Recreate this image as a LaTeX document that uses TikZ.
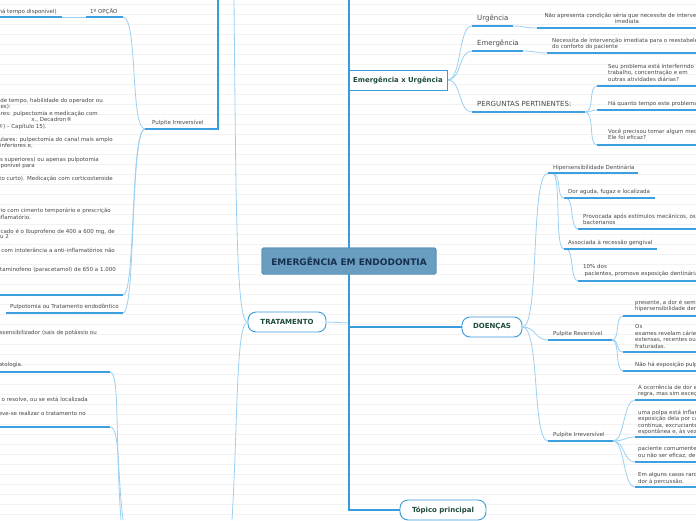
\documentclass[tikz,border=0pt]{standalone}
\usepackage{fontspec}
\setmainfont{DejaVu Sans}
\usetikzlibrary{arrows.meta}
\definecolor{thickblue}{HTML}{3A9BDC}
\definecolor{ublue}{HTML}{3D9FE0}
\definecolor{lblue}{HTML}{9BD0F3}
\definecolor{tgrey}{HTML}{484848}
\definecolor{ngreen}{HTML}{1D4B3C}
\definecolor{cfill}{HTML}{6A9EC0}
\definecolor{cborder}{HTML}{5590B8}
\definecolor{cnavy}{HTML}{17304F}
\definecolor{bgl}{HTML}{F2F2F2}
\tikzset{
  txt/.style={inner sep=0pt, text=tgrey, font=\fontsize{5.5}{6.5}\selectfont, align=left},
  txtc/.style={txt, align=center},
  midtxt/.style={inner sep=0pt, text=tgrey, font=\fontsize{7}{8}\selectfont},
  mainnode/.style={draw=thickblue, line width=0.9pt, fill=white, rounded corners=8pt, text=ngreen, font=\fontsize{7}{8}\selectfont\bfseries, inner sep=0pt},
  boxnode/.style={draw=thickblue, line width=1pt, fill=white, text=ngreen, font=\fontsize{6.9}{8}\selectfont\bfseries, inner sep=0pt},
  centernode/.style={draw=cborder, line width=0.8pt, fill=cfill, rounded corners=1.5pt, text=cnavy, font=\fontsize{9}{10}\selectfont\bfseries, inner sep=0pt},
  thickln/.style={draw=thickblue, line width=1.6pt},
  uline/.style={draw=ublue, line width=1.2pt},
  conn/.style={draw=lblue, line width=0.8pt},
}
\begin{document}
\begin{tikzpicture}[x=1pt,y=-1pt]
\useasboundingbox (0,0) rectangle (696,520);
\clip (0,0) rectangle (696,520);
\fill[white] (0,0) rectangle (696,520);
\foreach \i in {0,...,52} \draw[bgl, line width=0.6pt] (0,\i*10+4) -- (696,\i*10+4);

% ---------- main nodes ----------
\node[centernode, minimum width=174pt, minimum height=26pt] (center) at (349,261) {EMERGÊNCIA EM ENDODONTIA};
\node[boxnode, minimum width=98pt, minimum height=20pt] (eu) at (398,80) {Emergência x Urgência};
\node[mainnode, minimum width=78pt, minimum height=20pt] (trat) at (287,322) {TRATAMENTO};
\node[mainnode, minimum width=60pt, minimum height=20pt] (doencas) at (492,327) {DOENÇAS};
\node[mainnode, minimum width=86pt, minimum height=20pt] (topico) at (443,510) {Tópico principal};

% ---------- coordinates ----------
\coordinate (topc) at (349,0);
\coordinate (botc) at (349,510);
\coordinate (jd) at (349,327);
\coordinate (jt) at (349,323);
\coordinate (relTop) at (218,0);
\coordinate (relCorner) at (218,129);
\coordinate (relEnd) at (211,129);
\coordinate (tUp) at (234,0);
\coordinate (tDown) at (232,520);

% left side coordinates
\coordinate (hdR) at (62,17);
\coordinate (opL) at (86,17);
\coordinate (opR) at (123,17);
\coordinate (piL) at (145,129);
\coordinate (piR) at (218,129);
\coordinate (blkR) at (123,295);
\coordinate (puR) at (123,313);
\coordinate (b1R) at (110,372);
\coordinate (c1R) at (110,427);
\coordinate (bOff1) at (121,520);
\coordinate (bOff2) at (123,520);

% right side coordinates
\coordinate (urgL) at (472,26);
\coordinate (urgR) at (513,26);
\coordinate (urgtL) at (537,28);
\coordinate (emgL) at (472,51);
\coordinate (emgR) at (523,51);
\coordinate (emgtL) at (547,53);
\coordinate (perL) at (472,112);
\coordinate (perR) at (585,112);
\coordinate (q1L) at (597,86);
\coordinate (q2L) at (597,110);
\coordinate (q3L) at (597,145);
\coordinate (hipL) at (548,173);
\coordinate (hipS) at (552,173);
\coordinate (dorL) at (564,198);
\coordinate (dorS) at (566,198);
\coordinate (provL) at (578,229);
\coordinate (assL) at (564,249);
\coordinate (assS) at (566,249);
\coordinate (dezL) at (578,281);
\coordinate (prevL) at (548,340);
\coordinate (prevR) at (612,340);
\coordinate (pr1L) at (623,316);
\coordinate (pr2L) at (623,352);
\coordinate (pr3L) at (623,371);
\coordinate (pirrL) at (548,441);
\coordinate (pirrR) at (613,441);
\coordinate (pi1L) at (635,400);
\coordinate (pi2L) at (635,437);
\coordinate (pi3L) at (635,462);
\coordinate (pi4L) at (635,487);

% ---------- light connectors ----------
\draw[conn] (trat.east) -- (jt);
\draw[conn] (trat.west) .. controls (236,322) and (236,200) .. (tUp);
\draw[conn] (trat.west) .. controls (236,322) and (238,420) .. (tDown);
\draw[conn] (hdR) -- (opL);
\draw[conn] (piL) .. controls (130,129) and (138,17) .. (opR);
\draw[conn] (piL) .. controls (130,129) and (136,295) .. (blkR);
\draw[conn] (piL) .. controls (130,129) and (136,313) .. (puR);
\draw[conn] (b1R) .. controls (120,372) and (115,440) .. (bOff1);
\draw[conn] (c1R) .. controls (120,427) and (117,470) .. (bOff2);

\draw[conn] (eu.east) .. controls (462,80) and (458,26) .. (urgL);
\draw[conn] (eu.east) .. controls (462,80) and (458,51) .. (emgL);
\draw[conn] (eu.east) .. controls (462,80) and (458,112) .. (perL);
\draw[conn] (urgR) .. controls (525,26) and (525,28) .. (urgtL);
\draw[conn] (emgR) .. controls (535,51) and (535,53) .. (emgtL);
\draw[conn] (perR) .. controls (595,112) and (588,86) .. (q1L);
\draw[conn] (perR) .. controls (593,112) and (590,110) .. (q2L);
\draw[conn] (perR) .. controls (595,112) and (588,145) .. (q3L);

\draw[conn] (doencas.east) .. controls (540,327) and (530,173) .. (hipL);
\draw[conn] (doencas.east) .. controls (536,327) and (535,340) .. (prevL);
\draw[conn] (doencas.east) .. controls (540,327) and (532,441) .. (pirrL);
\draw[conn] (hipS) .. controls (562,173) and (556,198) .. (dorL);
\draw[conn] (hipS) .. controls (562,173) and (554,249) .. (assL);
\draw[conn] (dorS) .. controls (574,198) and (570,229) .. (provL);
\draw[conn] (assS) .. controls (574,249) and (570,281) .. (dezL);
\draw[conn] (prevR) .. controls (620,340) and (615,316) .. (pr1L);
\draw[conn] (prevR) .. controls (620,340) and (615,352) .. (pr2L);
\draw[conn] (prevR) .. controls (620,340) and (615,371) .. (pr3L);
\draw[conn] (pirrR) .. controls (625,441) and (623,400) .. (pi1L);
\draw[conn] (pirrR) .. controls (625,441) and (625,437) .. (pi2L);
\draw[conn] (pirrR) .. controls (625,441) and (623,462) .. (pi3L);
\draw[conn] (pirrR) .. controls (625,441) and (623,487) .. (pi4L);

% ---------- thick lines ----------
\draw[thickln] (topc) -- (botc) -- (topico.west);
\draw[thickln] (jd) -- (doencas.west);
\draw[thickln, -{Latex[length=3pt,width=3pt]}] (relTop) -- (relCorner) -- (relEnd);
\node[centernode, minimum width=174pt, minimum height=26pt] at (center) {EMERGÊNCIA EM ENDODONTIA};
\node[boxnode, minimum width=98pt, minimum height=20pt] at (eu) {Emergência x Urgência};

% ---------- underlines ----------
\draw[uline] (0,17) -- (hdR);
\draw[uline] (opL) -- (opR);
\draw[uline] (piL) -- (piR);
\draw[uline] (0,295) -- (blkR);
\draw[uline] (6,313) -- (puR);
\draw[uline] (0,372) -- (b1R);
\draw[uline] (0,427) -- (c1R);

\draw[uline] (urgL) -- (urgR);
\draw[uline] (urgtL) -- (700,28);
\draw[uline] (emgL) -- (emgR);
\draw[uline] (emgtL) -- (700,53);
\draw[uline] (perL) -- (perR);
\draw[uline] (q1L) -- (700,86);
\draw[uline] (q2L) -- (700,110);
\draw[uline] (q3L) -- (700,145);
\draw[uline] (hipL) -- (638,173);
\draw[uline] (dorL) -- (655,198);
\draw[uline] (provL) -- (700,229);
\draw[uline] (assL) -- (657,249);
\draw[uline] (dezL) -- (700,281);
\draw[uline] (prevL) -- (prevR);
\draw[uline] (pr1L) -- (700,316);
\draw[uline] (pr2L) -- (700,352);
\draw[uline] (pr3L) -- (700,371);
\draw[uline] (pirrL) -- (pirrR);
\draw[uline] (pi1L) -- (700,400);
\draw[uline] (pi2L) -- (700,437);
\draw[uline] (pi3L) -- (700,462);
\draw[uline] (pi4L) -- (700,487);

% ---------- left texts ----------
\node[txt, anchor=base east] (hd) at (57,13.8) {há tempo disponível)};
\node[txt, anchor=base west] (opc) at (90,13.4) {1º OPÇÃO};
\node[txt, anchor=base west] (pirrLt) at (152,124.8) {Pulpite Irreversível};
\node[txt, anchor=base east] (a1) at (103,102.9) {de tempo, habilidade do operador ou};
\node[txt, anchor=base east] (a2) at (11,108.9) {es):};
\node[txt, anchor=base east] (a3) at (98,115.9) {ares: pulpectomia e medicação com};
\node[txt, anchor=base east] (a4) at (72,121.9) {x., Decadron®};
\node[txt, anchor=base east] (a5) at (47,128.9) {®) – Capítulo 15).};
\node[txt, anchor=base east] (a6) at (113,141.9) {ulares: pulpectomia do canal mais amplo};
\node[txt, anchor=base east] (a7) at (33,147.9) {inferiores e,};
\node[txt, anchor=base east] (a8) at (99,161.9) {s superiores) ou apenas pulpotomia};
\node[txt, anchor=base east] (a9) at (35,167.9) {sponível para};
\node[txt, anchor=base east] (a10) at (113,180.9) {to curto). Medicação com corticosteroide};
\node[txt, anchor=base east] (a11) at (111,212.9) {rio com cimento temporário e prescrição};
\node[txt, anchor=base east] (a12) at (31,219.9) {inflamatório.};
\node[txt, anchor=base east] (a13) at (115,233.9) {cado é o Ibuprofeno de 400 a 600 mg, de};
\node[txt, anchor=base east] (a14) at (9,238.9) {ou 2};
\node[txt, anchor=base east] (a15) at (115,252.9) {com intolerância a anti-inflamatórios não};
\node[txt, anchor=base east] (a16) at (116,271.9) {taminofeno (paracetamol) de 650 a 1.000};
\node[txt, anchor=base west] (pulpo) at (10,308.9) {Pulpotomia ou Tratamento endodôntico};
\node[txt, anchor=base east] (b1) at (97,334.9) {ssensibilizador (sais de potássio ou};
\node[txt, anchor=base east] (b2) at (23,366.9) {atologia.};
\node[txt, anchor=base east] (c1) at (88,401.9) {o resolve, ou se está localizada};
\node[txt, anchor=base east] (c2) at (86,415.9) {eve-se realizar o tratamento no};

% ---------- right texts ----------
\node[midtxt, anchor=base west] (urg) at (477,20.5) {Urgência};
\node[midtxt, anchor=base west] (emg) at (477,45.5) {Emergência};
\node[midtxt, anchor=base west] (per) at (477,106.5) {PERGUNTAS PERTINENTES:};
\node[txtc, anchor=north] (urgt) at (627,12.6) {Não apresenta condição séria que necessite de intervenção\\imediata};
\node[txt, anchor=north west] (emgt) at (552,37.6) {Necessita de intervenção imediata para o reestabelecimento\\do conforto do paciente};
\node[txt, anchor=north west] (q1) at (608,63.6) {Seu problema está interferindo no seu\\trabalho, concentração e em\\outras atividades diárias?};
\node[txt, anchor=north west] (q2) at (608,100.6) {Há quanto tempo este problema existe?};
\node[txt, anchor=north west] (q3) at (608,128.6) {Você precisou tomar algum medicamento?\\Ele foi eficaz?};
\node[txt, anchor=north west] (hip) at (553,164.6) {Hipersensibilidade Dentinária};
\node[txt, anchor=north west] (dor) at (568,189.6) {Dor aguda, fugaz e localizada};
\node[txt, anchor=north west] (prov) at (583,213.6) {Provocada após estímulos mecânicos, osmóticos, térmicos ou\\bacterianos};
\node[txt, anchor=north west] (assoc) at (568,239.6) {Associada à recessão gengival};
\node[txt, anchor=north west] (dez) at (583,264.6) {10\% dos\\\hspace*{1.5pt}pacientes, promove exposição dentinária};
\node[txt, anchor=north west] (prev) at (553,330.6) {Pulpite Reversível};
\node[txt, anchor=north west] (pr1) at (635,299.6) {presente, a dor é sempre provocada\\hipersensibilidade dentinária};
\node[txt, anchor=north west] (pr2) at (635,324.6) {Os\\exames revelam cáries\\extensas, recentes ou\\fraturadas.};
\node[txt, anchor=north west] (pr3) at (635,361.6) {Não há exposição pulpar};
\node[txt, anchor=north west] (pirr) at (553,431.6) {Pulpite Irreversível};
\node[txt, anchor=north west] (pi1) at (638,384.6) {A ocorrência de dor espontânea não é a\\regra, mas sim exceção};
\node[txt, anchor=north west] (pi2) at (638,409.6) {uma polpa está inflamada\\exposição dela por cárie\\contínua, excruciante\\espontânea e, às vezes};
\node[txt, anchor=north west] (pi3) at (638,446.6) {paciente comumente relata\\ou não ser eficaz, dependendo};
\node[txt, anchor=north west] (pi4) at (638,472.6) {Em alguns casos raros\\dor à percussão.};
\end{tikzpicture}
\end{document}
